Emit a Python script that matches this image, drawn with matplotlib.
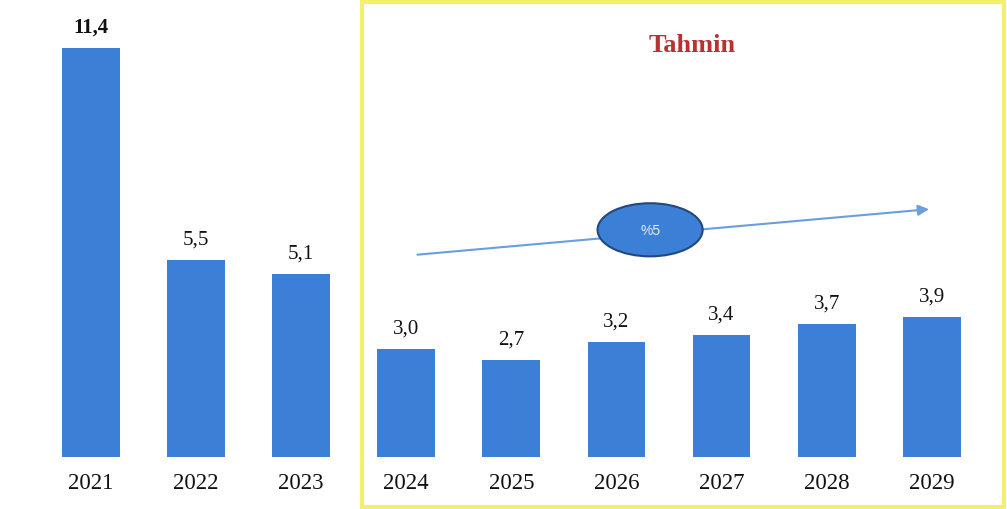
import matplotlib
matplotlib.use("Agg")
import matplotlib.pyplot as plt
from matplotlib.patches import Ellipse, Rectangle

years = ["2021", "2022", "2023", "2024", "2025", "2026", "2027", "2028", "2029"]
values = [11.4, 5.5, 5.1, 3.0, 2.7, 3.2, 3.4, 3.7, 3.9]
value_labels = ["11,4", "5,5", "5,1", "3,0", "2,7", "3,2", "3,4", "3,7", "3,9"]
forecast_title = "Tahmin"
growth_label = "%5"

BAR = "#3b7fd6"
fig = plt.figure(figsize=(10.07, 5.10), dpi=100)
ax = fig.add_axes([0, 0, 1, 1])
ax.set_xlim(-0.866, 8.716)
ax.set_ylim(-1.449, 12.76)
ax.axis("off")

xs = list(range(len(years)))
ax.bar(xs, values, width=0.55, color=BAR, zorder=2)

serif = ["Liberation Serif", "DejaVu Serif"]
for x, v, lab in zip(xs, values, value_labels):
    ax.annotate(lab, (x, v), xytext=(0, 15), textcoords="offset points",
                ha="center", va="center", fontsize=15, family=serif,
                fontweight="bold" if x == 0 else "normal", color="#111111")
for x, y in zip(xs, years):
    ax.text(x, -0.70, y, ha="center", va="center", fontsize=16.5,
            family=serif, color="#111111")

# forecast box
fig.patches.append(Rectangle((0.3595, 0.004), 0.6375, 0.990, transform=fig.transFigure,
                             fill=False, edgecolor="#f4ef6e", linewidth=3, zorder=0))
ax.text(5.72, 11.5, forecast_title, ha="center", va="center", fontsize=19,
        fontweight="bold", family=serif, color="#b83232")

# growth arrow
ax.annotate("", xy=(8.0, 6.91), xytext=(3.08, 5.63),
            arrowprops=dict(arrowstyle="-|>", color="#6a9edc", lw=1.5,
                            mutation_scale=16), zorder=3)
ax.add_patch(Ellipse((5.32, 6.33), 1.0, 1.48, facecolor=BAR,
                     edgecolor="#24487e", linewidth=1.5, zorder=4))
ax.text(5.32, 6.33, growth_label, ha="center", va="center", fontsize=10,
        color="#e8eef8", family=["Liberation Sans", "DejaVu Sans"], zorder=5)

fig.savefig("out.png", dpi=100, facecolor="white")
